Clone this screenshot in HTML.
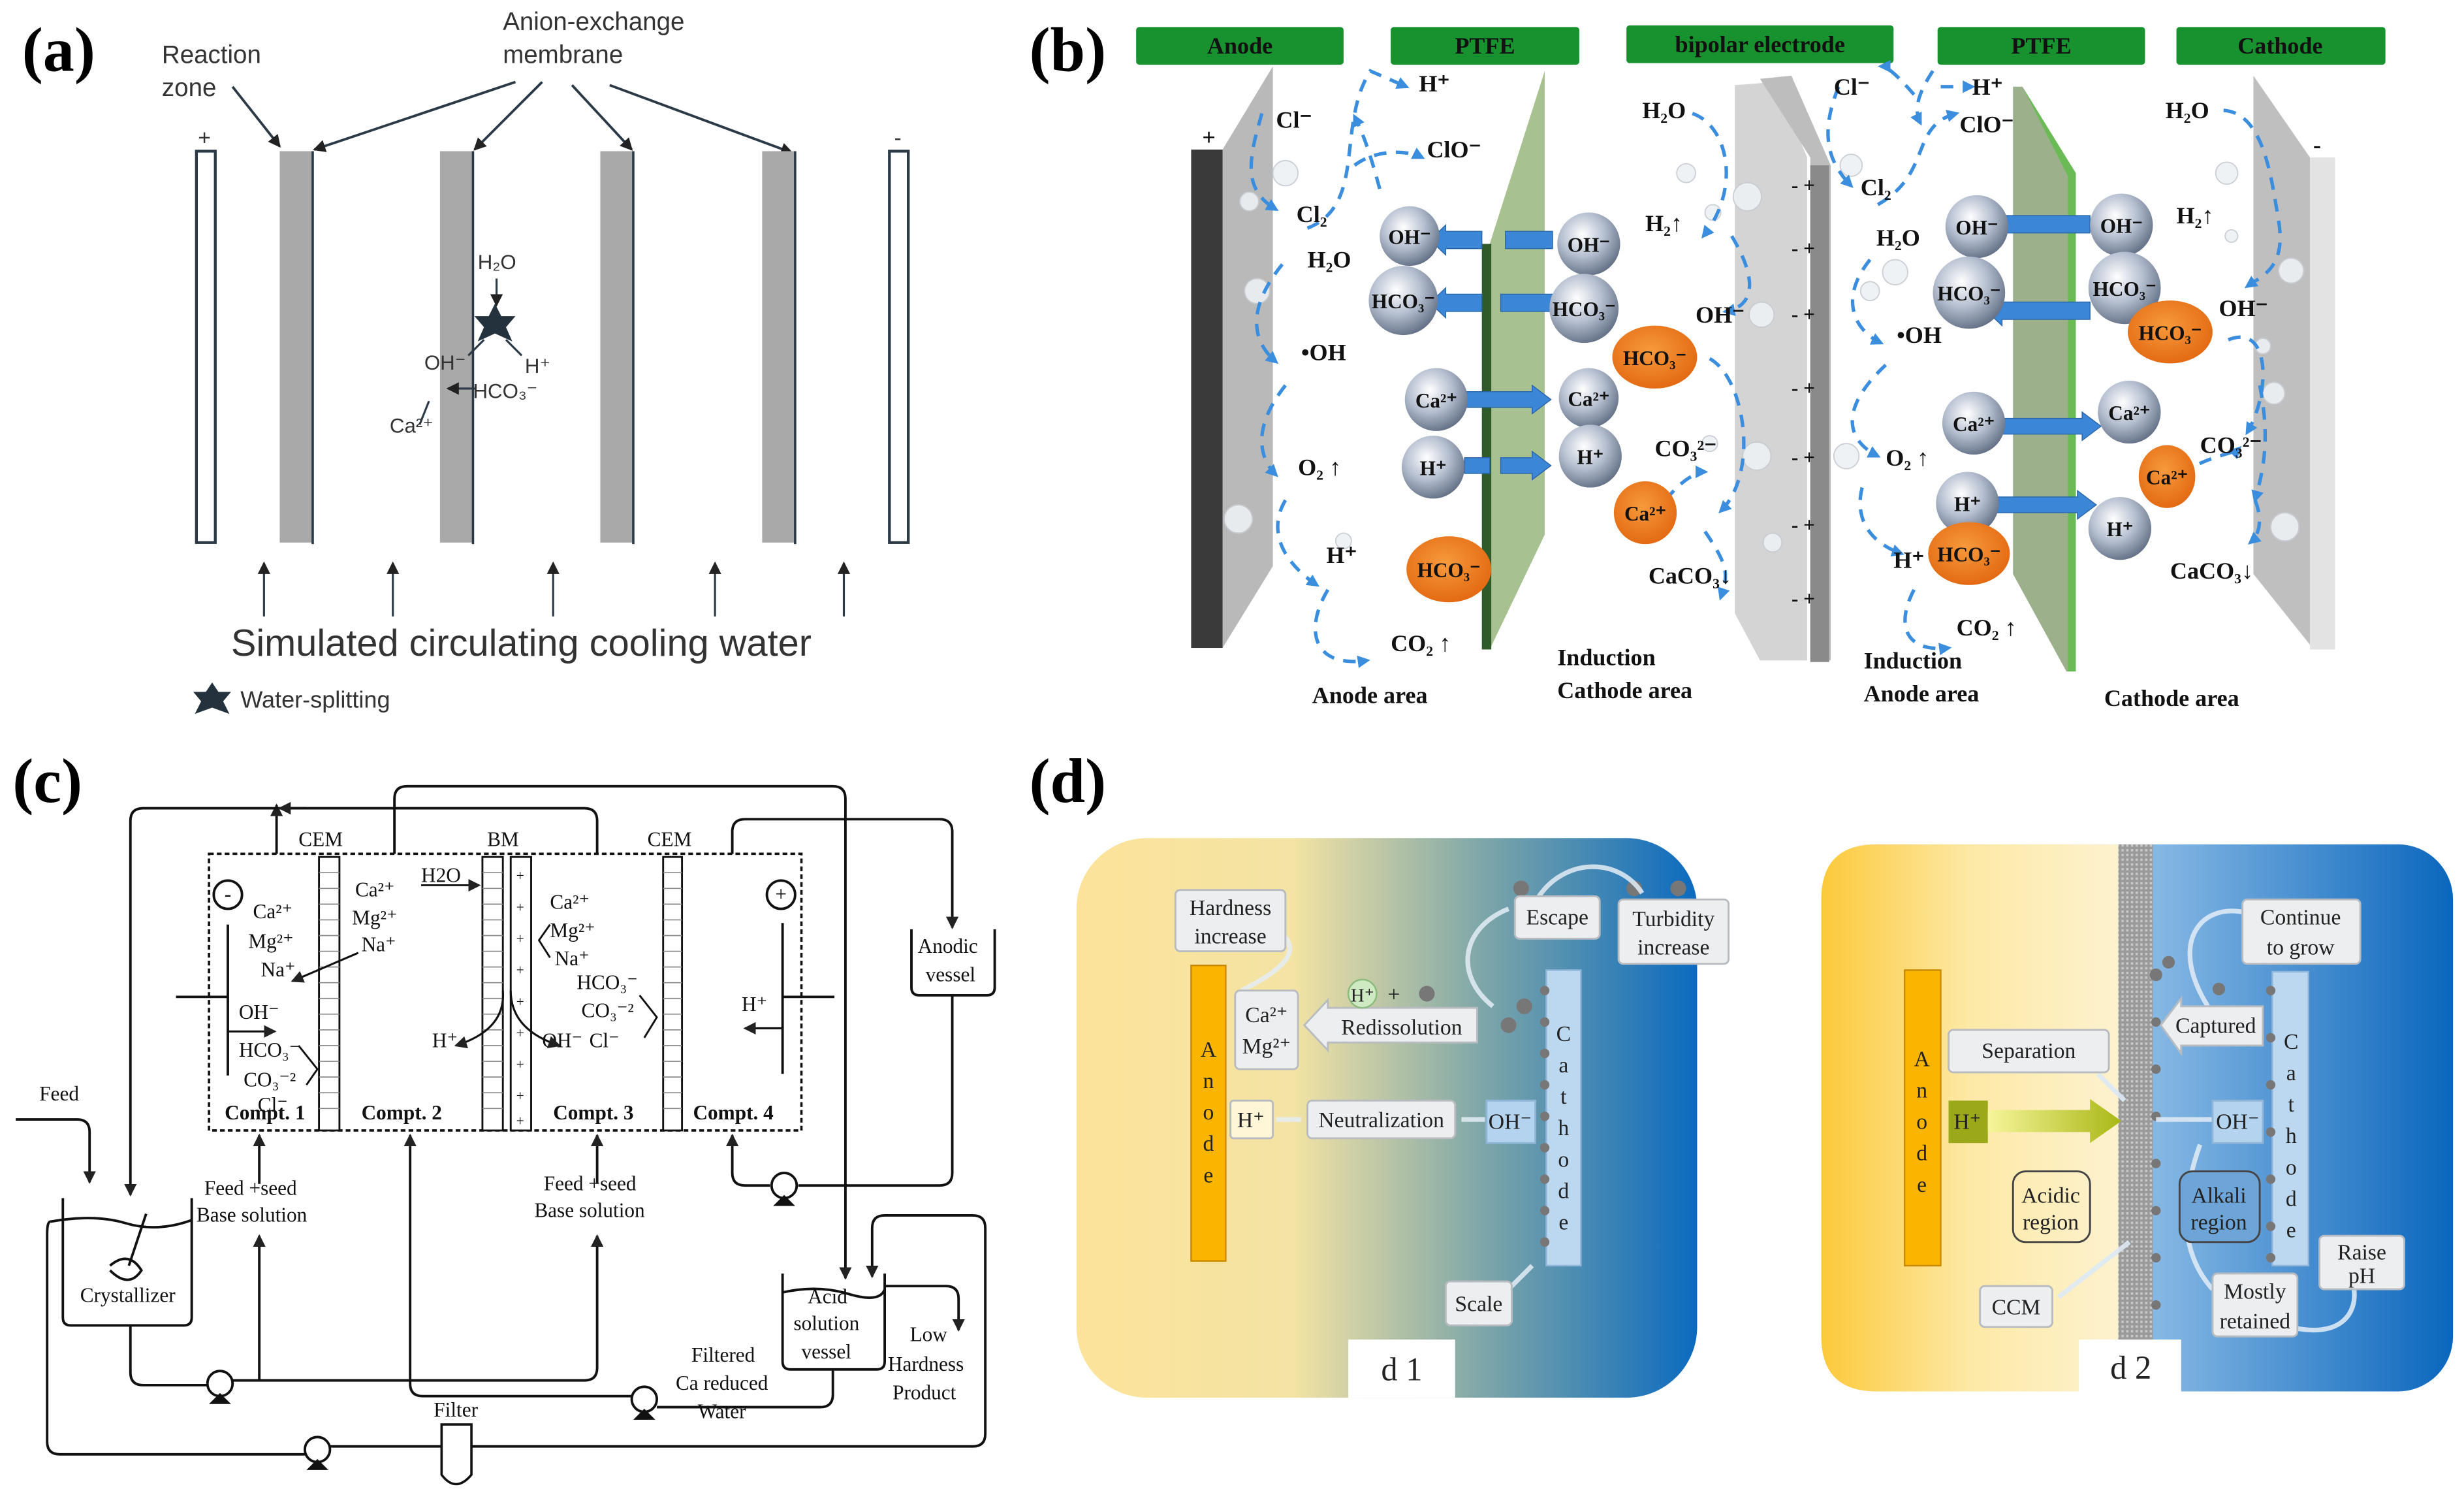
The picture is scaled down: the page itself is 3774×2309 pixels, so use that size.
<!DOCTYPE html>
<html><head><meta charset="utf-8"><style>
html,body{margin:0;padding:0;background:#fff}
svg{display:block}
.lab{font-family:"Liberation Serif",serif;font-weight:bold;font-size:40px}
.sa{font-family:"Liberation Sans",sans-serif;fill:#333}
.sb{font-family:"Liberation Serif",serif;font-weight:bold;font-size:15px;fill:#111}
.sc{font-family:"Liberation Serif",serif;font-size:13px;fill:#111}
.sd{font-family:"Liberation Serif",serif;font-size:14px;fill:#222}
.hd{font-family:"Liberation Serif",serif;font-weight:bold;font-size:15px;fill:#111}
</style></head><body>
<svg width="3774" height="2309" viewBox="0 0 1568 959" xmlns="http://www.w3.org/2000/svg">
<defs>
<radialGradient id="sph" cx="0.4" cy="0.35" r="0.7"><stop offset="0" stop-color="#fff"/><stop offset="0.5" stop-color="#b5bfd0"/><stop offset="1" stop-color="#5d6a80"/></radialGradient>
<radialGradient id="org" cx="0.45" cy="0.4" r="0.7"><stop offset="0" stop-color="#f79a3c"/><stop offset="1" stop-color="#e0620c"/></radialGradient>
<linearGradient id="d1g" x1="0" x2="1"><stop offset="0" stop-color="#fde39a"/><stop offset="0.35" stop-color="#f3e3a4"/><stop offset="0.65" stop-color="#7fa7a8"/><stop offset="1" stop-color="#0b6abf"/></linearGradient>
<linearGradient id="d2l" x1="0" x2="1"><stop offset="0" stop-color="#fcc93a"/><stop offset="0.5" stop-color="#fde9a6"/><stop offset="1" stop-color="#fdf2cf"/></linearGradient>
<linearGradient id="d2r" x1="0" x2="1"><stop offset="0" stop-color="#d6e8f8"/><stop offset="0.5" stop-color="#8ebde6"/><stop offset="1" stop-color="#0a66bd"/></linearGradient>
<linearGradient id="yar" x1="0" x2="1"><stop offset="0" stop-color="#f6f59a"/><stop offset="1" stop-color="#a9b816"/></linearGradient>
<marker id="ah" markerWidth="8" markerHeight="8" refX="7" refY="4" orient="auto" markerUnits="userSpaceOnUse"><path d="M0,0 L8,4 L0,8 z" fill="#222"/></marker>
<marker id="ab" markerWidth="8" markerHeight="8" refX="6" refY="4" orient="auto" markerUnits="userSpaceOnUse"><path d="M0,0 L8,4 L0,8 z" fill="#3b8ede"/></marker>
<pattern id="hat" width="3" height="3" patternUnits="userSpaceOnUse"><rect width="3" height="3" fill="#9a9a9a"/><rect width="1.5" height="1.5" fill="#c8c8c8"/></pattern>
</defs>

<!-- ===== (a) ===== -->
<text x="14" y="45" class="lab">(a)</text>
<text x="103" y="40" class="sa" font-size="16">Reaction</text>
<text x="103" y="61" class="sa" font-size="16">zone</text>
<text x="320" y="19" class="sa" font-size="16">Anion-exchange</text>
<text x="320" y="40" class="sa" font-size="16">membrane</text>
<g stroke="#2b3a46" stroke-width="1.6" fill="none">
<line x1="148" y1="55" x2="178" y2="93" marker-end="url(#ah)"/>
<line x1="328" y1="52" x2="200" y2="95" marker-end="url(#ah)"/>
<line x1="345" y1="52" x2="302" y2="95" marker-end="url(#ah)"/>
<line x1="364" y1="54" x2="402" y2="95" marker-end="url(#ah)"/>
<line x1="388" y1="54" x2="504" y2="97" marker-end="url(#ah)"/>
</g>
<text x="126" y="92" class="sa" font-size="14">+</text>
<text x="569" y="92" class="sa" font-size="14">-</text>
<rect x="125" y="96" width="12" height="249" fill="#fff" stroke="#2b3a46" stroke-width="1.8"/>
<rect x="566" y="96" width="12" height="249" fill="#fff" stroke="#2b3a46" stroke-width="1.8"/>
<g fill="#a9a9a9"><rect x="178" y="96" width="21" height="249"/><rect x="280" y="96" width="21" height="249"/><rect x="382" y="96" width="21" height="249"/><rect x="485" y="96" width="21" height="249"/></g>
<g stroke="#2b3a46" stroke-width="1.5"><line x1="199" y1="96" x2="199" y2="346"/><line x1="301" y1="96" x2="301" y2="346"/><line x1="403" y1="96" x2="403" y2="346"/><line x1="506" y1="96" x2="506" y2="346"/></g>
<g stroke="#2b3a46" stroke-width="1.3">
<line x1="168" y1="392" x2="168" y2="358" marker-end="url(#ah)"/><line x1="250" y1="392" x2="250" y2="358" marker-end="url(#ah)"/><line x1="352" y1="392" x2="352" y2="358" marker-end="url(#ah)"/><line x1="455" y1="392" x2="455" y2="358" marker-end="url(#ah)"/><line x1="537" y1="392" x2="537" y2="358" marker-end="url(#ah)"/>
<line x1="316" y1="177" x2="316" y2="194" marker-end="url(#ah)"/>
<line x1="308" y1="216" x2="298" y2="226"/><line x1="322" y1="216" x2="332" y2="226"/>
<line x1="303" y1="247" x2="285" y2="247" marker-end="url(#ah)"/>
<line x1="273" y1="255" x2="267" y2="270"/>
</g>
<text x="304" y="171" class="sa" font-size="13">H₂O</text>
<polygon points="315,193 319,201 328,201 322,208 326,217 315,212 304,217 308,208 302,201 311,201" fill="#23323d"/>
<text x="270" y="235" class="sa" font-size="13">OH⁻</text>
<text x="334" y="237" class="sa" font-size="13">H⁺</text>
<text x="301" y="253" class="sa" font-size="13">HCO₃⁻</text>
<text x="248" y="275" class="sa" font-size="13">Ca²⁺</text>
<text x="147" y="417" class="sa" font-size="24" fill="#222">Simulated circulating cooling water</text>
<polygon points="135,434 139,440 147,440 142,446 146,454 135,450 124,454 128,446 123,440 131,440" fill="#23323d"/>
<text x="153" y="450" class="sa" font-size="15">Water-splitting</text>

<!-- ===== (b) ===== -->
<text x="655" y="45" class="lab">(b)</text>
<g fill="#17922e"><rect x="723" y="17" width="132" height="24" rx="2"/><rect x="885" y="17" width="120" height="24" rx="2"/><rect x="1035" y="16" width="170" height="24" rx="2"/><rect x="1233" y="17" width="132" height="24" rx="2"/><rect x="1385" y="17" width="133" height="24" rx="2"/></g>
<g class="hd" text-anchor="middle"><text x="789" y="34">Anode</text><text x="945" y="34">PTFE</text><text x="1120" y="33">bipolar electrode</text><text x="1299" y="34">PTFE</text><text x="1451" y="34">Cathode</text></g>
<polygon points="778,95 810,42 810,360 778,412" fill="#b9b9b9"/>
<rect x="758" y="95" width="20" height="317" fill="#3a3a3a"/>
<text x="765" y="92" class="sb">+</text>
<polygon points="948,155 983,45 983,340 948,413" fill="#a8c191"/>
<rect x="943" y="155" width="6" height="258" fill="#2f5a2a"/>
<polygon points="1104,54 1130,52 1150,100 1150,420 1120,420 1104,390" fill="#d4d4d4"/>
<polygon points="1120,50 1140,48 1165,105 1165,420 1152,420 1152,100" fill="#bdbdbd"/>
<rect x="1152" y="105" width="12" height="316" fill="#8a8a8a"/>
<g class="sb" style="font-size:13px"><text x="1140" y="122">- +</text><text x="1140" y="162">- +</text><text x="1140" y="204">- +</text><text x="1140" y="251">- +</text><text x="1140" y="295">- +</text><text x="1140" y="338">- +</text><text x="1140" y="385">- +</text></g>
<polygon points="1281,55 1287,55 1321,110 1321,427 1315,427 1281,365" fill="#9cb08c"/>
<polygon points="1287,55 1321,110 1321,427 1316,427 1316,112" fill="#6abb55"/>
<polygon points="1434,48 1470,100 1470,410 1434,365" fill="#bfbfbf"/>
<rect x="1470" y="100" width="16" height="313" fill="#e3e3e3"/>
<text x="1472" y="97" class="sb">-</text>
<g fill="#eef1f4" stroke="#c8ccd2" stroke-width="0.8" opacity="0.9">
<circle cx="818" cy="110" r="8"/><circle cx="795" cy="128" r="6"/><circle cx="800" cy="185" r="8"/><circle cx="788" cy="330" r="9"/><circle cx="855" cy="344" r="5"/><circle cx="1073" cy="110" r="6"/><circle cx="1090" cy="135" r="5"/><circle cx="1112" cy="125" r="9"/><circle cx="1121" cy="200" r="8"/><circle cx="1118" cy="290" r="9"/><circle cx="1128" cy="345" r="6"/><circle cx="1088" cy="282" r="5"/><circle cx="1178" cy="105" r="7"/><circle cx="1190" cy="185" r="6"/><circle cx="1175" cy="290" r="8"/><circle cx="1206" cy="173" r="8"/><circle cx="1417" cy="110" r="7"/><circle cx="1458" cy="172" r="8"/><circle cx="1447" cy="250" r="7"/><circle cx="1454" cy="335" r="9"/><circle cx="1440" cy="220" r="5"/><circle cx="1420" cy="150" r="4"/></g>
<g fill="none" stroke="#3b8ede" stroke-width="2.2" stroke-dasharray="8,6">
<path d="M803,72 C795,100 790,120 812,133" marker-end="url(#ab)"/>
<path d="M832,145 C870,130 850,80 872,45 L895,55" marker-end="url(#ab)"/>
<path d="M862,105 C875,95 895,95 905,100" marker-end="url(#ab)"/>
<path d="M878,120 C870,90 865,80 862,74" marker-end="url(#ab)"/>
<path d="M816,168 C790,200 800,220 812,230" marker-end="url(#ab)"/>
<path d="M818,245 C798,270 800,290 812,302" marker-end="url(#ab)"/>
<path d="M818,318 C805,340 820,360 838,372" marker-end="url(#ab)"/>
<path d="M845,375 C830,400 835,425 870,420" marker-end="url(#ab)"/>
<path d="M1077,72 C1100,80 1108,120 1084,150" marker-end="url(#ab)"/>
<path d="M1102,150 C1120,180 1115,195 1098,198" marker-end="url(#ab)"/>
<path d="M1088,228 C1110,240 1120,300 1095,325" marker-end="url(#ab)"/>
<path d="M1085,338 C1100,360 1100,365 1095,380" marker-end="url(#ab)"/>
<path d="M1060,318 C1070,305 1080,300 1085,300" marker-end="url(#ab)"/>
<path d="M1170,55 C1160,80 1160,100 1178,118" marker-end="url(#ab)"/>
<path d="M1195,130 C1230,110 1215,80 1245,72" marker-end="url(#ab)"/>
<path d="M1230,45 C1220,60 1218,70 1222,78" marker-end="url(#ab)"/>
<path d="M1218,60 C1205,45 1200,42 1197,42" marker-end="url(#ab)"/>
<path d="M1235,55 L1255,55" marker-end="url(#ab)"/>
<path d="M1190,165 C1170,190 1180,210 1197,218" marker-end="url(#ab)"/>
<path d="M1200,232 C1170,260 1175,280 1195,290" marker-end="url(#ab)"/>
<path d="M1185,310 C1180,330 1190,345 1210,352" marker-end="url(#ab)"/>
<path d="M1218,375 C1205,400 1215,415 1240,412" marker-end="url(#ab)"/>
<path d="M1415,70 C1440,72 1445,110 1450,140 C1455,170 1440,175 1430,182" marker-end="url(#ab)"/>
<path d="M1418,216 C1445,205 1445,250 1430,275" marker-end="url(#ab)"/>
<path d="M1438,245 C1445,280 1440,300 1435,318" marker-end="url(#ab)"/>
<path d="M1378,312 C1395,290 1420,290 1425,285" marker-end="url(#ab)"/>
<path d="M1435,318 C1440,330 1438,340 1432,345" marker-end="url(#ab)"/>
</g>
<g fill="#3b86d6" stroke="#2a66a8" stroke-width="0.6">
<polygon points="958,147 988,147 988,158 958,158"/><polygon points="920,147 943,147 943,158 920,158 920,162 910,152.5 920,143"/>
<polygon points="955,187 988,187 988,198 955,198"/><polygon points="920,187 943,187 943,198 920,198 920,202 910,192.5 920,183"/>
<polygon points="932,249 975,249 975,245 987,254 975,263 975,259 932,259"/>
<polygon points="932,291 948,291 948,301 932,301"/><polygon points="955,291 975,291 975,287 987,296 975,305 975,301 955,301"/>
<polygon points="1272,137 1330,137 1330,148 1272,148 1272,152 1262,142.5 1272,133"/>
<polygon points="1274,192 1330,192 1330,203 1274,203 1274,207 1264,197.5 1274,188"/>
<polygon points="1272,266 1325,266 1325,262 1337,271 1325,280 1325,276 1272,276"/>
<polygon points="1270,316 1322,316 1322,312 1334,321 1322,330 1322,326 1270,326"/>
</g>
<g fill="url(#sph)"><circle cx="897" cy="150" r="19"/><circle cx="1011" cy="155" r="20"/><circle cx="893" cy="191" r="22"/><circle cx="1008" cy="196" r="22"/><circle cx="914" cy="254" r="20"/><circle cx="1011" cy="253" r="19"/><circle cx="912" cy="297" r="20"/><circle cx="1012" cy="290" r="20"/><circle cx="1258" cy="144" r="20"/><circle cx="1350" cy="143" r="20"/><circle cx="1253" cy="186" r="23"/><circle cx="1352" cy="183" r="23"/><circle cx="1256" cy="269" r="20"/><circle cx="1355" cy="262" r="20"/><circle cx="1252" cy="320" r="20"/><circle cx="1349" cy="336" r="20"/></g>
<g fill="url(#org)"><ellipse cx="922" cy="362" rx="27" ry="21"/><ellipse cx="1053" cy="227" rx="27" ry="20"/><ellipse cx="1047" cy="326" rx="20" ry="20"/><ellipse cx="1381" cy="211" rx="27" ry="20"/><ellipse cx="1253" cy="352" rx="26" ry="20"/><ellipse cx="1379" cy="303" rx="18" ry="20"/></g>
<g class="sb" text-anchor="middle" style="font-size:13px">
<text x="897" y="155">OH⁻</text><text x="1011" y="160">OH⁻</text><text x="893" y="196">HCO₃⁻</text><text x="1008" y="201">HCO₃⁻</text><text x="914" y="259">Ca²⁺</text><text x="1011" y="258">Ca²⁺</text><text x="912" y="302">H⁺</text><text x="1012" y="295">H⁺</text>
<text x="1258" y="149">OH⁻</text><text x="1350" y="148">OH⁻</text><text x="1253" y="191">HCO₃⁻</text><text x="1352" y="188">HCO₃⁻</text><text x="1256" y="274">Ca²⁺</text><text x="1355" y="267">Ca²⁺</text><text x="1252" y="325">H⁺</text><text x="1349" y="341">H⁺</text>
<text x="922" y="367">HCO₃⁻</text><text x="1053" y="232">HCO₃⁻</text><text x="1047" y="331">Ca²⁺</text><text x="1381" y="216">HCO₃⁻</text><text x="1253" y="357">HCO₃⁻</text><text x="1379" y="308">Ca²⁺</text>
</g>
<g class="sb">
<text x="812" y="81">Cl⁻</text><text x="903" y="58">H⁺</text><text x="908" y="100">ClO⁻</text><text x="825" y="141">Cl₂</text><text x="832" y="170">H₂O</text><text x="828" y="229">•OH</text><text x="826" y="302">O₂ ↑</text><text x="844" y="358">H⁺</text><text x="885" y="414">CO₂ ↑</text>
<text x="1045" y="75">H₂O</text><text x="1047" y="147">H₂↑</text><text x="1079" y="205">OH⁻</text><text x="1053" y="290">CO₃²⁻</text><text x="1049" y="371">CaCO₃↓</text>
<text x="1167" y="60">Cl⁻</text><text x="1255" y="60">H⁺</text><text x="1247" y="84">ClO⁻</text><text x="1184" y="124">Cl₂</text><text x="1194" y="156">H₂O</text><text x="1207" y="218">•OH</text><text x="1200" y="296">O₂ ↑</text><text x="1205" y="361">H⁺</text><text x="1245" y="404">CO₂ ↑</text>
<text x="1378" y="75">H₂O</text><text x="1385" y="142">H₂↑</text><text x="1412" y="201">OH⁻</text><text x="1400" y="288">CO₃²⁻</text><text x="1381" y="368">CaCO₃↓</text>
<text x="835" y="447">Anode area</text><text x="991" y="423">Induction</text><text x="991" y="444">Cathode area</text><text x="1186" y="425">Induction</text><text x="1186" y="446">Anode area</text><text x="1339" y="449">Cathode area</text>
</g>

<!-- ===== (c) ===== -->
<text x="8" y="510" class="lab">(c)</text>
<rect x="133" y="543" width="377" height="176" fill="none" stroke="#111" stroke-width="1.5" stroke-dasharray="3,2"/>
<g fill="#fff" stroke="#111" stroke-width="1.2"><rect x="203" y="545" width="13" height="174"/><rect x="307" y="545" width="13" height="174"/><rect x="325" y="545" width="13" height="174"/><rect x="422" y="545" width="12" height="174"/></g>
<g stroke="#888" stroke-width="0.7">
<path d="M203,555h13M203,565h13M203,575h13M203,585h13M203,595h13M203,605h13M203,615h13M203,625h13M203,635h13M203,645h13M203,655h13M203,665h13M203,675h13M203,685h13M203,695h13M203,705h13"/>
<path d="M307,555h13M307,565h13M307,575h13M307,585h13M307,595h13M307,605h13M307,615h13M307,625h13M307,635h13M307,645h13M307,655h13M307,665h13M307,675h13M307,685h13M307,695h13M307,705h13"/>
<path d="M422,555h12M422,565h12M422,575h12M422,585h12M422,595h12M422,605h12M422,615h12M422,625h12M422,635h12M422,645h12M422,655h12M422,665h12M422,675h12M422,685h12M422,695h12M422,705h12"/>
</g>
<g class="sc" text-anchor="middle" style="font-size:9px"><text x="331" y="560">+</text><text x="331" y="580">+</text><text x="331" y="600">+</text><text x="331" y="620">+</text><text x="331" y="640">+</text><text x="331" y="660">+</text><text x="331" y="680">+</text><text x="331" y="700">+</text><text x="331" y="716">+</text></g>
<g class="sc"><text x="190" y="538">CEM</text><text x="310" y="538">BM</text><text x="412" y="538">CEM</text></g>
<g fill="none" stroke="#111" stroke-width="1.6">
<circle cx="145" cy="569" r="9"/><circle cx="497" cy="569" r="9"/>
<line x1="145" y1="588" x2="145" y2="684"/><line x1="112" y1="634" x2="145" y2="634"/>
<line x1="498" y1="587" x2="498" y2="683"/><line x1="498" y1="634" x2="531" y2="634"/>
<line x1="176" y1="543" x2="176" y2="512" marker-end="url(#ah)"/>
<path d="M380,543 V522 Q380,514 372,514 H91 Q83,514 83,522 V760" marker-end="url(#ah)"/>
<line x1="195" y1="514" x2="178" y2="514" marker-end="url(#ah)"/>
<path d="M251,543 V508 Q251,500 259,500 H530 Q538,500 538,508 V813" marker-end="url(#ah)"/>
<path d="M466,543 V529 Q466,521 474,521 H598 Q606,521 606,529 V590" marker-end="url(#ah)"/>
<path d="M606,633 V746 Q606,754 598,754 H508"/>
<path d="M490,754 H474 Q466,754 466,746 V722" marker-end="url(#ah)"/>
<path d="M10,712 H49 Q57,712 57,720 V752" marker-end="url(#ah)"/>
<path d="M580,591 V628 Q580,633 585,633 H628 Q633,633 633,628 V591"/>
<path d="M40,762 V838 Q40,843 45,843 H117 Q122,843 122,838 V762"/>
<path d="M32,777 Q60,772 80,778 T122,776"/>
<path d="M498,810 V866 Q498,871 503,871 H558 Q563,871 563,866 V810"/>
<path d="M498,822 Q520,817 540,823 T563,820"/>
<line x1="93" y1="772" x2="82" y2="805"/><path d="M70,805 Q82,795 90,808 Q82,820 70,808"/>
<path d="M83,843 V873 Q83,881 91,881 H132"/>
<path d="M148,878 H372 Q380,878 380,870 V786" marker-end="url(#ah)"/>
<line x1="165" y1="878" x2="165" y2="786" marker-end="url(#ah)"/>
<line x1="165" y1="753" x2="165" y2="722" marker-end="url(#ah)"/>
<line x1="380" y1="753" x2="380" y2="722" marker-end="url(#ah)"/>
<path d="M402,888 H269 Q261,888 261,880 V722" marker-end="url(#ah)"/>
<path d="M418,895 H522 Q530,895 530,887 V871"/>
<path d="M32,777 Q30,777 30,785 V917 Q30,925 38,925 H194"/>
<path d="M210,920 H619 Q627,920 627,912 V781 Q627,773 619,773 H563 Q555,773 555,781 V812" marker-end="url(#ah)"/>
<path d="M563,818 H602 Q610,818 610,826 V846" marker-end="url(#ah)"/>
</g>
<text x="145" y="573" class="sc" text-anchor="middle">-</text><text x="497" y="573" class="sc" text-anchor="middle">+</text>
<g fill="#fff" stroke="#111" stroke-width="1.6">
<circle cx="140" cy="880" r="8"/><circle cx="410" cy="890" r="8"/><circle cx="202" cy="922" r="8"/><circle cx="499" cy="754" r="8"/>
</g>
<g fill="#111"><path d="M133,893 L147,893 L140,886z"/><path d="M403,903 L417,903 L410,896z"/><path d="M195,935 L209,935 L202,928z"/><path d="M492,767 L506,767 L499,760z"/></g>
<path d="M281,906 H300 V938 Q290,950 281,938 Z" fill="#fff" stroke="#111" stroke-width="1.5"/>
<g class="sc">
<text x="161" y="584">Ca²⁺</text><text x="158" y="603">Mg²⁺</text><text x="166" y="621">Na⁺</text>
<line x1="228" y1="606" x2="186" y2="624" stroke="#111" stroke-width="1.3" marker-end="url(#ah)"/>
<text x="152" y="648">OH⁻</text><line x1="145" y1="656" x2="175" y2="656" stroke="#111" stroke-width="1.3" marker-end="url(#ah)"/>
<text x="152" y="672">HCO₃⁻</text><text x="155" y="691">CO₃⁻²</text><text x="164" y="707">Cl⁻</text>
<path d="M190,665 L202,680 L195,690" fill="none" stroke="#111" stroke-width="1.2"/>
<text x="226" y="570">Ca²⁺</text><text x="224" y="588">Mg²⁺</text><text x="230" y="605">Na⁺</text>
<text x="268" y="561">H2O</text><line x1="268" y1="563" x2="305" y2="563" stroke="#111" stroke-width="1.2" marker-end="url(#ah)"/>
<text x="350" y="578">Ca²⁺</text><text x="350" y="596">Mg²⁺</text><text x="353" y="614">Na⁺</text>
<path d="M350,588 L343,598 L350,609" fill="none" stroke="#111" stroke-width="1.2"/>
<text x="367" y="629">HCO₃⁻</text><text x="370" y="647">CO₃⁻²</text><text x="375" y="666">Cl⁻</text>
<path d="M407,633 L418,647 L410,660" fill="none" stroke="#111" stroke-width="1.2"/>
<text x="345" y="666">OH⁻</text><text x="275" y="666">H⁺</text>
<path d="M320,630 Q322,655 290,665" fill="none" stroke="#111" stroke-width="1.3" marker-end="url(#ah)"/>
<path d="M325,630 Q325,655 356,665" fill="none" stroke="#111" stroke-width="1.3" marker-end="url(#ah)"/>
<text x="472" y="643">H⁺</text><line x1="498" y1="654" x2="474" y2="654" stroke="#111" stroke-width="1.3" marker-end="url(#ah)"/>
<text x="143" y="712" font-weight="bold">Compt. 1</text><text x="230" y="712" font-weight="bold">Compt. 2</text><text x="352" y="712" font-weight="bold">Compt. 3</text><text x="441" y="712" font-weight="bold">Compt. 4</text>
<text x="25" y="700">Feed</text>
<text x="130" y="760">Feed +seed</text><text x="125" y="777">Base solution</text>
<text x="346" y="757">Feed +seed</text><text x="340" y="774">Base solution</text>
<text x="584" y="606">Anodic</text><text x="589" y="624">vessel</text>
<text x="51" y="828">Crystallizer</text>
<text x="514" y="829">Acid</text><text x="505" y="846">solution</text><text x="510" y="864">vessel</text>
<text x="579" y="853">Low</text><text x="565" y="872">Hardness</text><text x="568" y="890">Product</text>
<text x="440" y="866">Filtered</text><text x="430" y="884">Ca reduced</text><text x="444" y="902">Water</text>
<text x="276" y="901">Filter</text>
</g>

<!-- ===== (d) ===== -->
<text x="655" y="510" class="lab">(d)</text>
<rect x="685" y="533" width="395" height="356" rx="45" fill="url(#d1g)"/>
<rect x="1159" y="537" width="402" height="348" rx="35" fill="url(#d2r)"/>
<path d="M1194,537 H1348 V885 H1194 Q1159,885 1159,850 V572 Q1159,537 1194,537z" fill="url(#d2l)"/>
<rect x="1348" y="537" width="22" height="348" fill="url(#hat)"/>
<rect x="758" y="614" width="22" height="188" fill="#f9b500" stroke="#c98a00"/>
<g class="sd" text-anchor="middle"><text x="769" y="672">A</text><text x="769" y="692">n</text><text x="769" y="712">o</text><text x="769" y="732">d</text><text x="769" y="752">e</text></g>
<rect x="984" y="617" width="22" height="188" fill="#bcd8f0" stroke="#8fb5d8"/>
<g class="sd" text-anchor="middle"><text x="995" y="662">C</text><text x="995" y="682">a</text><text x="995" y="702">t</text><text x="995" y="722">h</text><text x="995" y="742">o</text><text x="995" y="762">d</text><text x="995" y="782">e</text></g>
<g fill="#777"><circle cx="983" cy="630" r="3"/><circle cx="983" cy="650" r="3"/><circle cx="983" cy="670" r="3"/><circle cx="983" cy="690" r="3"/><circle cx="983" cy="710" r="3"/><circle cx="983" cy="730" r="3"/><circle cx="983" cy="750" r="3"/><circle cx="983" cy="770" r="3"/><circle cx="983" cy="790" r="3"/><circle cx="970" cy="640" r="5"/><circle cx="960" cy="652" r="5"/><circle cx="968" cy="565" r="5"/><circle cx="1040" cy="565" r="5"/><circle cx="1068" cy="565" r="5"/><circle cx="908" cy="632" r="5"/></g>
<g fill="none" stroke="#e4edf6" stroke-width="3" opacity="0.85"><path d="M950,640 C925,620 930,590 960,578"/><path d="M790,630 C820,615 825,605 818,596"/><path d="M978,572 C995,545 1030,545 1045,568"/><path d="M975,805 L958,822"/><path d="M945,712 L930,712"/><path d="M812,712 L828,712"/></g>
<g fill="#eceeef" stroke="#b8bcc0" stroke-width="1.2">
<rect x="748" y="566" width="70" height="39" rx="3"/><rect x="786" y="630" width="40" height="50" rx="3"/><rect x="832" y="700" width="94" height="24" rx="3"/><rect x="783" y="700" width="27" height="24" rx="2" fill="#fff6d8"/><rect x="964" y="570" width="54" height="27" rx="3"/><rect x="1030" y="572" width="70" height="41" rx="3"/><rect x="920" y="815" width="42" height="28" rx="3"/>
<polygon points="845,641 940,641 940,663 845,663 845,668 830,652 845,636"/>
<rect x="946" y="700" width="31" height="27" fill="#b4d3ee" stroke="#8fb5d8"/>
</g>
<circle cx="867" cy="632" r="9" fill="#cdeac2" stroke="#8dbb7e"/>
<g class="sd" text-anchor="middle">
<text x="783" y="582">Hardness</text><text x="783" y="600">increase</text><text x="806" y="650">Ca²⁺</text><text x="806" y="670">Mg²⁺</text><text x="892" y="658">Redissolution</text><text x="867" y="637" style="font-size:12px">H⁺</text><text x="887" y="637">+</text><text x="879" y="717">Neutralization</text><text x="796" y="717">H⁺</text><text x="961" y="718">OH⁻</text><text x="991" y="588">Escape</text><text x="1065" y="589">Turbidity</text><text x="1065" y="607">increase</text><text x="941" y="834">Scale</text>
</g>
<rect x="858" y="852" width="68" height="37" fill="#fff"/><text x="892" y="878" class="sd" text-anchor="middle" style="font-size:21px">d 1</text>
<rect x="1212" y="617" width="23" height="188" fill="#f9b500" stroke="#c98a00"/>
<g class="sd" text-anchor="middle"><text x="1223" y="678">A</text><text x="1223" y="698">n</text><text x="1223" y="718">o</text><text x="1223" y="738">d</text><text x="1223" y="758">e</text></g>
<rect x="1446" y="618" width="23" height="187" fill="#bcd8f0" stroke="#8fb5d8"/>
<g class="sd" text-anchor="middle"><text x="1458" y="667">C</text><text x="1458" y="687">a</text><text x="1458" y="707">t</text><text x="1458" y="727">h</text><text x="1458" y="747">o</text><text x="1458" y="767">d</text><text x="1458" y="787">e</text></g>
<g fill="#777"><circle cx="1372" cy="620" r="4"/><circle cx="1380" cy="612" r="4"/><circle cx="1372" cy="650" r="3"/><circle cx="1372" cy="680" r="3"/><circle cx="1372" cy="710" r="3"/><circle cx="1372" cy="740" r="3"/><circle cx="1372" cy="770" r="3"/><circle cx="1372" cy="800" r="3"/><circle cx="1372" cy="830" r="3"/><circle cx="1445" cy="630" r="3"/><circle cx="1445" cy="660" r="3"/><circle cx="1445" cy="690" r="3"/><circle cx="1445" cy="720" r="3"/><circle cx="1445" cy="750" r="3"/><circle cx="1445" cy="780" r="3"/><circle cx="1445" cy="800" r="3"/><circle cx="1412" cy="629" r="4"/></g>
<g fill="none" stroke="#dde9f5" stroke-width="3" opacity="0.9"><path d="M1405,640 C1380,600 1400,575 1427,580"/><path d="M1408,712 L1372,712"/><path d="M1335,683 L1352,700"/><path d="M1355,790 L1310,825"/><path d="M1400,728 C1385,770 1390,800 1408,820"/><path d="M1462,845 C1490,850 1500,835 1498,820"/></g>
<g fill="#eceeef" stroke="#b8bcc0" stroke-width="1.2">
<rect x="1240" y="655" width="102" height="27" rx="3"/><rect x="1427" y="572" width="75" height="41" rx="3"/><rect x="1476" y="786" width="54" height="34" rx="3"/><rect x="1408" y="810" width="54" height="40" rx="3"/><rect x="1260" y="818" width="46" height="26" rx="3"/>
<polygon points="1388,640 1440,640 1440,665 1388,665 1388,670 1375,652 1388,635"/>
<rect x="1408" y="700" width="32" height="27" fill="#b4d3ee" stroke="#8fb5d8"/>
</g>
<rect x="1281" y="745" width="49" height="45" rx="8" fill="none" stroke="#444" stroke-width="1.2"/>
<rect x="1387" y="745" width="51" height="45" rx="8" fill="#6ea5d8" stroke="#444" stroke-width="1.2"/>
<rect x="1240" y="700" width="25" height="27" fill="#9aa81a"/>
<polygon points="1265,706 1330,706 1330,699 1350,713 1330,727 1330,720 1265,720" fill="url(#yar)"/>
<g class="sd" text-anchor="middle">
<text x="1291" y="673">Separation</text><text x="1464" y="588">Continue</text><text x="1464" y="607">to grow</text><text x="1503" y="801">Raise</text><text x="1503" y="816">pH</text><text x="1435" y="826">Mostly</text><text x="1435" y="845">retained</text><text x="1283" y="836">CCM</text><text x="1410" y="657">Captured</text><text x="1424" y="718">OH⁻</text><text x="1252" y="718">H⁺</text><text x="1305" y="765">Acidic</text><text x="1305" y="782">region</text><text x="1412" y="765">Alkali</text><text x="1412" y="782">region</text>
</g>
<rect x="1323" y="852" width="65" height="35" fill="#fff"/><text x="1356" y="877" class="sd" text-anchor="middle" style="font-size:21px">d 2</text>
</svg>
</body></html>
